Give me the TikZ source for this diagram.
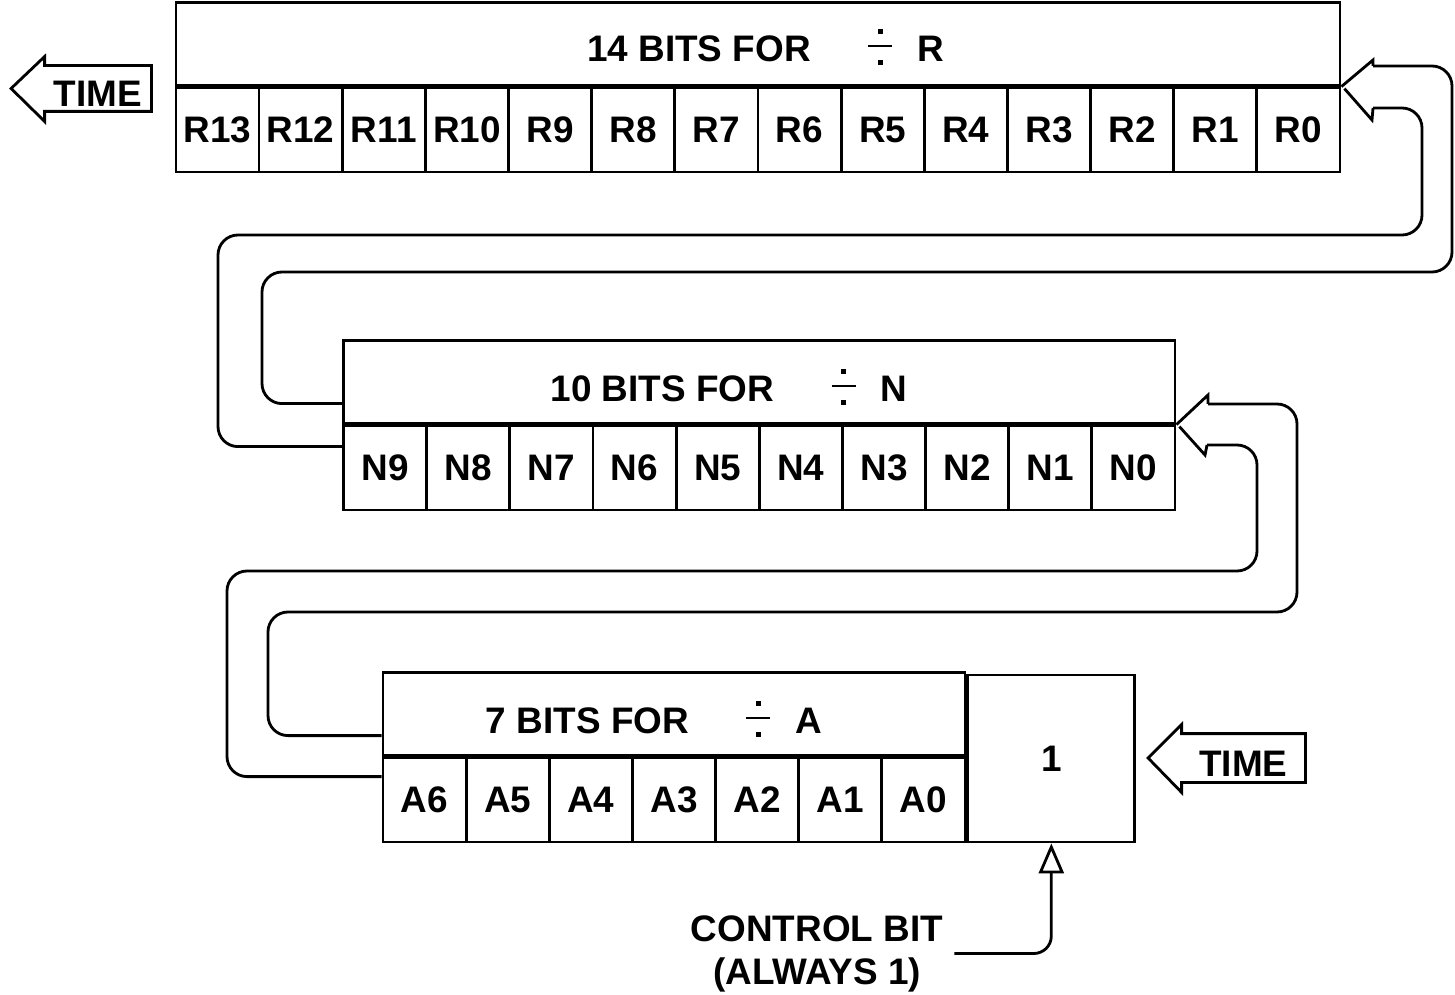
\documentclass[tikz,border=0pt]{standalone}
\usepackage{fontspec}
\setmainfont{Liberation Sans}
\usetikzlibrary{arrows.meta}

\newcommand\divsign{\ooalign{\hfil\rule[0.74em]{0.1cm}{0.1cm}\hfil\cr
  \rule[0.38em]{0.48cm}{0.05em}\cr
  \hfil\rule[-0.1em]{0.1cm}{0.1cm}\hfil\cr}}
\newcommand\bitsfor[2]{#1 BITS FOR\hspace{1.15cm}\divsign\hspace{0.5cm}#2}

\begin{document}
\begin{tikzpicture}[line width=1.6pt,
    every node/.style={font=\bfseries\fontsize{21}{24.5}\selectfont},
    cell/.style={draw, minimum width=1.663cm, minimum height=1.68cm, inner sep=0pt},
    header/.style={draw, minimum height=1.66cm, anchor=south west, inner sep=0pt},
    timebox/.style={inner sep=0pt, minimum height=0.86cm, text height=0.72cm},
    wire/.style={rounded corners=4mm},
    ctrlarrow/.style={-{Triangle[open,length=6mm,width=5mm]}, rounded corners=3.5mm}]
  \useasboundingbox (0,0) rectangle (29.1,-19.9);

  % register for R
  \foreach \i in {0,...,13}
    \node[cell] (r\i) at ({26.8-1.663*(\i+0.5)},-2.6) {R\i};
  \node[header, minimum width=23.282cm] (rhead) at (r13.north west) {};
  \node (rlabel) at (15.31,-0.94) {\bitsfor{14}{R}};

  % register for N
  \foreach \i in {0,...,9}
    \node[cell] (n\i) at ({23.5-1.663*(\i+0.5)},-9.36) {N\i};
  \node[header, minimum width=16.63cm] (nhead) at (n9.north west) {};
  \node (nlabel) at (14.58,-7.74) {\bitsfor{10}{N}};

  % register for A and control bit
  \foreach \i in {0,...,6}
    \node[cell] (a\i) at ({19.3-1.663*(\i+0.5)},-16.0) {A\i};
  \node[header, minimum width=11.641cm] (ahead) at (a6.north west) {};
  \node (alabel) at (13.08,-14.38) {\bitsfor{7}{A}};
  \node[draw, minimum width=3.34cm, minimum height=3.34cm, anchor=south west] (ctrl) at (a0.south east) {1};

  % time arrows
  \node[timebox, minimum width=2.08cm] (timeL) at (1.96,-1.77) {TIME};
  \node[timebox, minimum width=2.42cm, minimum height=0.92cm] (timeR) at (24.87,-15.16) {TIME};
  \foreach \t in {timeL,timeR}
    \draw (\t.north west) -- ++(0,0.18) -- ([xshift=-0.67cm]\t.west) -- ([yshift=-0.2cm]\t.south west)
      -- (\t.south west) -- (\t.south east) -- (\t.north east) -- cycle;

  % R to N
  \draw (r0.north east) -- (27.46,-1.2) -- (27.46,-1.32);
  \draw[wire] (27.46,-1.32) -- (29.04,-1.32) -- (29.04,-5.44) -- (5.24,-5.44) |- ([yshift=0.42cm]nhead.south west);
  \draw ([shift={(0.06,-0.04)}]r0.north east) -- (27.44,-2.4) -- (27.46,-2.16);
  \draw[wire] (27.46,-2.16) -- (28.44,-2.16) -- (28.44,-4.7) -- (4.36,-4.7) |- ([yshift=-0.44cm]n9.north west);

  % N to A
  \draw (n0.north east) -- (24.16,-7.9) -- (24.16,-8.08);
  \draw[wire] (24.16,-8.08) -- (25.94,-8.08) -- (25.94,-12.24) -- (5.36,-12.24) |- ([yshift=0.42cm]ahead.south west);
  \draw ([shift={(0.06,-0.04)}]n0.north east) -- (24.1,-9.1) -- (24.14,-8.9);
  \draw[wire] (24.14,-8.9) -- (25.14,-8.9) -- (25.14,-11.42) -- (4.54,-11.42) |- ([yshift=-0.4cm]a6.north west);

  % control bit
  \node[align=center, inner sep=0.2cm] (ctrltxt) at (16.34,-19.07) {CONTROL BIT\\(ALWAYS 1)};
  \draw[ctrlarrow] (ctrltxt.east) -| (ctrl.south);
\end{tikzpicture}
\end{document}
